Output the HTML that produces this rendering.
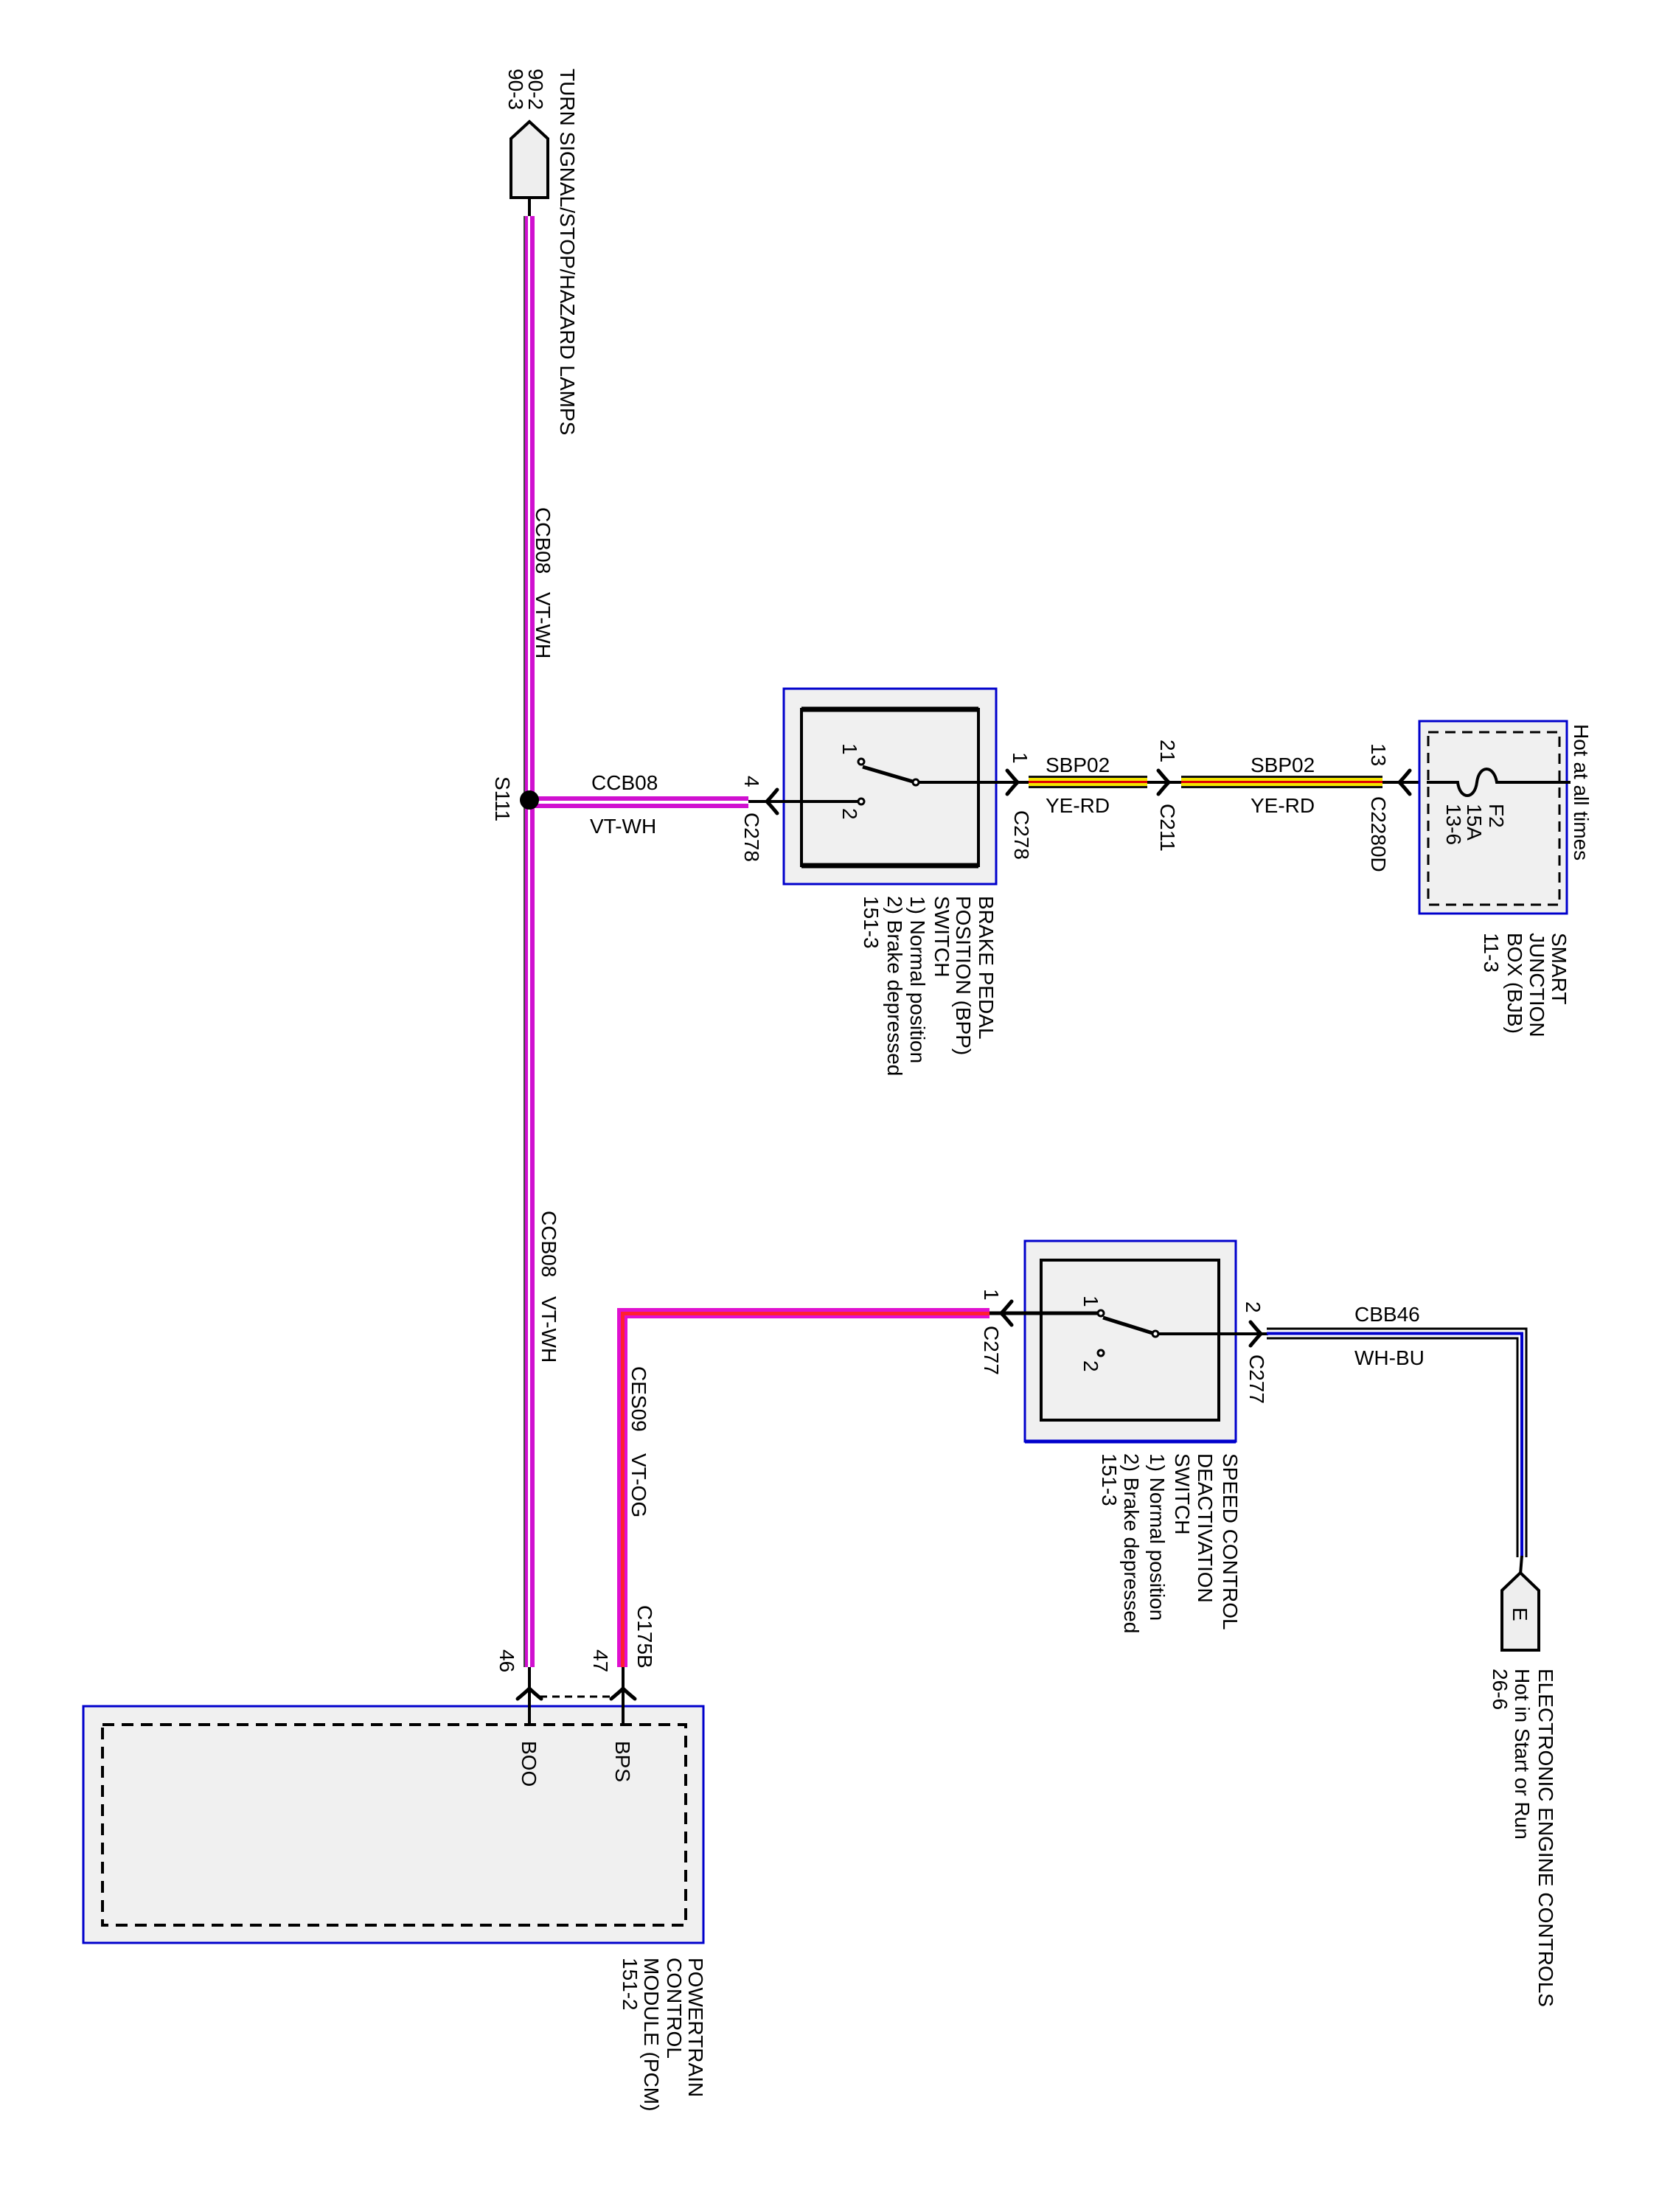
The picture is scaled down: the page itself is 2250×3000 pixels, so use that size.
<!DOCTYPE html>
<html><head><meta charset="utf-8"><style>
html,body{margin:0;padding:0;background:#fff;}
svg{display:block;}
text{font-family:"Liberation Sans",Arial,sans-serif;fill:#000;}
</style></head><body>
<svg width="2250" height="3000" viewBox="0 0 2250 3000" xmlns="http://www.w3.org/2000/svg">
<defs>
<g id="arrL"><path d="M14,-16 Q4,-4 0,0 Q4,4 14,16" fill="none" stroke="#000" stroke-width="5" stroke-linecap="round"/></g>
<g id="arrR"><path d="M-14,-16 Q-4,-4 0,0 Q-4,4 -14,16" fill="none" stroke="#000" stroke-width="5" stroke-linecap="round"/></g>
<g id="arrU"><path d="M-16,14 Q-4,4 0,0 Q4,4 16,14" fill="none" stroke="#000" stroke-width="5" stroke-linecap="round"/></g>
</defs>

<!-- TURN SIGNAL connector -->
<path d="M693,188 L718,165 L743,188 L743,268 L693,268 Z" fill="#eee" stroke="#000" stroke-width="4"/>
<line x1="718" y1="268" x2="718" y2="295" stroke="#000" stroke-width="4"/>
<g font-size="28">
<text transform="translate(760,93) rotate(90)">TURN SIGNAL/STOP/HAZARD LAMPS</text>
<text transform="translate(717,93) rotate(90)">90-2</text>
<text transform="translate(690,93) rotate(90)">90-3</text>
</g>

<!-- main vertical VT-WH wire -->
<rect x="710" y="293" width="15" height="1968" fill="#d010d0"/>
<rect x="710" y="293" width="2" height="1968" fill="#444"/>
<rect x="716" y="293" width="3" height="1968" fill="#fff"/>
<g font-size="28">
<text transform="translate(727,688) rotate(90)">CCB08</text>
<text transform="translate(727,803) rotate(90)">VT-WH</text>
<text transform="translate(735,1642) rotate(90)">CCB08</text>
<text transform="translate(735,1758) rotate(90)">VT-WH</text>
<text transform="translate(672,1053) rotate(90)">S111</text>
</g>

<!-- horizontal VT-WH to BPP -->
<rect x="725" y="1080" width="290" height="16" fill="#d010d0"/>
<rect x="725" y="1086" width="290" height="4" fill="#fff"/>
<circle cx="718" cy="1085" r="13" fill="#000"/>
<text x="802" y="1071" font-size="28">CCB08</text>
<text x="800" y="1130" font-size="28">VT-WH</text>

<!-- BPP switch -->
<rect x="1063" y="934" width="288" height="265" fill="#f0f0f0" stroke="#0000cc" stroke-width="3"/>
<rect x="1087" y="962" width="240" height="212" fill="none" stroke="#000" stroke-width="4"/>
<line x1="1087" y1="962" x2="1327" y2="962" stroke="#000" stroke-width="7"/>
<line x1="1087" y1="1174" x2="1327" y2="1174" stroke="#000" stroke-width="7"/>
<line x1="1015" y1="1087" x2="1164" y2="1087" stroke="#000" stroke-width="4"/>
<circle cx="1168" cy="1087" r="4" fill="#fff" stroke="#000" stroke-width="3"/>
<circle cx="1168" cy="1033" r="4" fill="#fff" stroke="#000" stroke-width="3"/>
<line x1="1170" y1="1040" x2="1238" y2="1060" stroke="#000" stroke-width="5"/>
<circle cx="1242" cy="1061" r="4" fill="#fff" stroke="#000" stroke-width="3"/>
<line x1="1246" y1="1061" x2="1395" y2="1061" stroke="#000" stroke-width="4"/>
<use href="#arrL" x="1040" y="1087"/>
<use href="#arrR" x="1380" y="1061"/>
<g font-size="28">
<text transform="translate(1010,1052) rotate(90)">4</text>
<text transform="translate(1010,1102) rotate(90)">C278</text>
<text transform="translate(1374,1020) rotate(90)">1</text>
<text transform="translate(1376,1099) rotate(90)">C278</text>
<text transform="translate(1143,1008) rotate(90)">1</text>
<text transform="translate(1143,1096) rotate(90)">2</text>
<text transform="translate(1328,1215) rotate(90)">BRAKE PEDAL</text>
<text transform="translate(1297,1215) rotate(90)">POSITION (BPP)</text>
<text transform="translate(1268,1215) rotate(90)">SWITCH</text>
<text transform="translate(1235,1215) rotate(90)">1) Normal position</text>
<text transform="translate(1204,1215) rotate(90)">2) Brake depressed</text>
<text transform="translate(1172,1215) rotate(90)">151-3</text>
</g>

<!-- YE-RD wires -->
<g>
<rect x="1395" y="1052" width="161" height="17" fill="#111"/>
<rect x="1395" y="1055" width="161" height="11" fill="#f5e600"/>
<rect x="1395" y="1059" width="161" height="3" fill="#e00000"/>
<rect x="1602" y="1052" width="273" height="17" fill="#111"/>
<rect x="1602" y="1055" width="273" height="11" fill="#f5e600"/>
<rect x="1602" y="1059" width="273" height="3" fill="#e00000"/>
</g>
<line x1="1556" y1="1061" x2="1602" y2="1061" stroke="#000" stroke-width="4"/>
<line x1="1875" y1="1061" x2="1977" y2="1061" stroke="#000" stroke-width="4"/>
<use href="#arrR" x="1585" y="1061"/>
<use href="#arrL" x="1898" y="1061"/>
<text x="1418" y="1047" font-size="28">SBP02</text>
<text x="1418" y="1102" font-size="28">YE-RD</text>
<text x="1696" y="1047" font-size="28">SBP02</text>
<text x="1696" y="1102" font-size="28">YE-RD</text>
<g font-size="28">
<text transform="translate(1574,1003) rotate(90)">21</text>
<text transform="translate(1574,1090) rotate(90)">C211</text>
<text transform="translate(1860,1008) rotate(90)">13</text>
<text transform="translate(1860,1080) rotate(90)">C2280D</text>
</g>

<!-- SJB -->
<rect x="1925" y="978" width="200" height="261" fill="#f0f0f0" stroke="#0000cc" stroke-width="3"/>
<rect x="1937" y="993" width="178" height="234" fill="none" stroke="#000" stroke-width="3" stroke-dasharray="14,9"/>
<path d="M1935,1061 L1977,1061 C1980,1085 2000,1085 2003,1061 C2006,1037 2026,1037 2030,1061 L2130,1061" fill="none" stroke="#000" stroke-width="4"/>
<g font-size="28">
<text transform="translate(2135,982) rotate(90)">Hot at all times</text>
<text transform="translate(2020,1090) rotate(90)">F2</text>
<text transform="translate(1990,1090) rotate(90)">15A</text>
<text transform="translate(1962,1090) rotate(90)">13-6</text>
<text transform="translate(2105,1265) rotate(90)">SMART</text>
<text transform="translate(2075,1265) rotate(90)">JUNCTION</text>
<text transform="translate(2045,1265) rotate(90)">BOX (BJB)</text>
<text transform="translate(2013,1265) rotate(90)">11-3</text>
</g>

<!-- CES09 VT-OG wire -->
<rect x="837" y="1774" width="505" height="14" fill="#e010d0"/>
<rect x="837" y="1774" width="14" height="487" fill="#e010d0"/>
<rect x="842" y="1779" width="500" height="5" fill="#ff2030"/>
<rect x="842" y="1779" width="5" height="482" fill="#ff2030"/>
<g font-size="28">
<text transform="translate(857,1853) rotate(90)">CES09</text>
<text transform="translate(857,1971) rotate(90)">VT-OG</text>
<text transform="translate(865,2177) rotate(90)">C175B</text>
</g>

<!-- SCD switch -->
<rect x="1390" y="1683" width="286" height="272" fill="#f0f0f0" stroke="#0000cc" stroke-width="3"/>
<line x1="1390" y1="1955" x2="1676" y2="1955" stroke="#0000cc" stroke-width="5"/>
<rect x="1412" y="1709" width="241" height="217" fill="none" stroke="#000" stroke-width="4"/>
<line x1="1342" y1="1781" x2="1489" y2="1781" stroke="#000" stroke-width="5"/>
<circle cx="1493" cy="1781" r="4" fill="#fff" stroke="#000" stroke-width="3"/>
<line x1="1496" y1="1787" x2="1563" y2="1808" stroke="#000" stroke-width="5"/>
<circle cx="1567" cy="1809" r="4" fill="#fff" stroke="#000" stroke-width="3"/>
<circle cx="1493" cy="1835" r="4" fill="#fff" stroke="#000" stroke-width="3"/>
<line x1="1571" y1="1809" x2="1720" y2="1809" stroke="#000" stroke-width="4"/>
<use href="#arrL" x="1358" y="1781"/>
<use href="#arrR" x="1710" y="1809"/>
<g font-size="28">
<text transform="translate(1335,1748) rotate(90)">1</text>
<text transform="translate(1335,1798) rotate(90)">C277</text>
<text transform="translate(1690,1765) rotate(90)">2</text>
<text transform="translate(1695,1837) rotate(90)">C277</text>
<text transform="translate(1470,1757) rotate(90)">1</text>
<text transform="translate(1470,1845) rotate(90)">2</text>
<text transform="translate(1659,1971) rotate(90)">SPEED CONTROL</text>
<text transform="translate(1625,1971) rotate(90)">DEACTIVATION</text>
<text transform="translate(1594,1971) rotate(90)">SWITCH</text>
<text transform="translate(1560,1971) rotate(90)">1) Normal position</text>
<text transform="translate(1525,1971) rotate(90)">2) Brake depressed</text>
<text transform="translate(1495,1971) rotate(90)">151-3</text>
</g>

<!-- WH-BU wire -->
<polyline points="1718,1802 2070,1802 2070,2112" fill="none" stroke="#000" stroke-width="3"/>
<polyline points="1718,1808.5 2064,1808.5 2064,2112" fill="none" stroke="#0000cc" stroke-width="4"/>
<polyline points="1718,1815 2058,1815 2058,2112" fill="none" stroke="#000" stroke-width="3"/>
<line x1="2064" y1="2110" x2="2062" y2="2135" stroke="#000" stroke-width="4"/>
<text x="1837" y="1792" font-size="28">CBB46</text>
<text x="1837" y="1851" font-size="28">WH-BU</text>

<!-- E connector -->
<path d="M2037,2157 L2062,2133 L2087,2157 L2087,2238 L2037,2238 Z" fill="#eee" stroke="#000" stroke-width="4"/>
<g font-size="28">
<text transform="translate(2052,2180) rotate(90)">E</text>
<text transform="translate(2087,2263) rotate(90)">ELECTRONIC ENGINE CONTROLS</text>
<text transform="translate(2055,2263) rotate(90)">Hot in Start or Run</text>
<text transform="translate(2025,2263) rotate(90)">26-6</text>
</g>

<!-- PCM -->
<rect x="113" y="2314" width="841" height="321" fill="#f0f0f0" stroke="#0000cc" stroke-width="3"/>
<rect x="139" y="2339" width="791" height="272" fill="none" stroke="#000" stroke-width="4" stroke-dasharray="16,10"/>
<line x1="718" y1="2261" x2="718" y2="2339" stroke="#000" stroke-width="4"/>
<line x1="845" y1="2261" x2="845" y2="2339" stroke="#000" stroke-width="4"/>
<line x1="732" y1="2301" x2="832" y2="2301" stroke="#000" stroke-width="3" stroke-dasharray="10,7"/>
<use href="#arrU" x="718" y="2290"/>
<use href="#arrU" x="845" y="2290"/>
<g font-size="28">
<text transform="translate(678,2237) rotate(90)">46</text>
<text transform="translate(805,2237) rotate(90)">47</text>
<text transform="translate(708,2361) rotate(90)">BOO</text>
<text transform="translate(835,2361) rotate(90)">BPS</text>
<text transform="translate(934,2655) rotate(90)">POWERTRAIN</text>
<text transform="translate(905,2655) rotate(90)">CONTROL</text>
<text transform="translate(874,2655) rotate(90)">MODULE (PCM)</text>
<text transform="translate(845,2655) rotate(90)">151-2</text>
</g>
</svg>
</body></html>
